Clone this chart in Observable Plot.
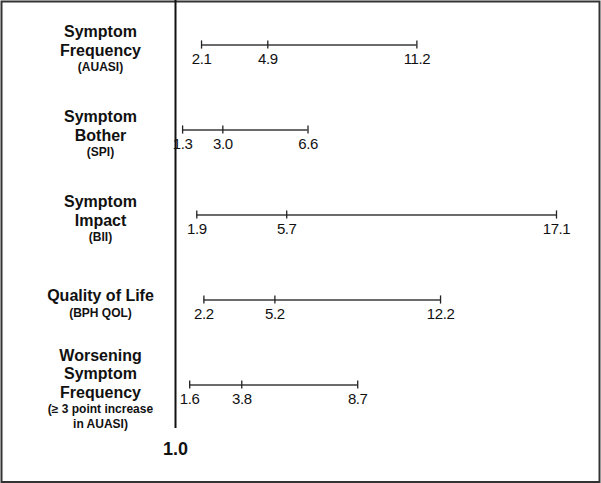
<!DOCTYPE html>
<html>
<head>
<meta charset="utf-8">
<script src="https://cdn.jsdelivr.net/npm/d3@7"></script>
<script src="https://cdn.jsdelivr.net/npm/@observablehq/plot@0.6"></script>
<style>
  html, body { margin: 0; padding: 0; background: #fff; }
  svg { display: block; }
  .vals text { letter-spacing: -0.4px; }
</style>
</head>
<body>
<div id="chart"></div>
<script>
const categories = ["Symptom Frequency", "Symptom Bother", "Symptom Impact", "Quality of Life", "Worsening Symptom Frequency"];
const mainLabels = ["Symptom\nFrequency", "Symptom\nBother", "Symptom\nImpact", "Quality of Life", "Worsening\nSymptom\nFrequency"];
const subLabels = ["(AUASI)", "(SPI)", "(BII)", "(BPH QOL)", "(\u2265 3 point increase\nin AUASI)"];
const lower = [2.1, 1.3, 1.9, 2.2, 1.6];
const estimate = [4.9, 3.0, 5.7, 5.2, 3.8];
const upper = [11.2, 6.6, 17.1, 12.2, 8.7];
const refValue = [1.0];

const rows = categories.map((c, i) => ({cat: c, low: lower[i], est: estimate[i], high: upper[i]}));
const points = rows.flatMap(r => [r.low, r.est, r.high].map(v => ({cat: r.cat, v})));

const W = 601, H = 483;
const mainLH = 18.5, subLH = 14.5, gap = 17, labelX = 100;
const fmt = d3.format(".1f");

const labelMarks = categories.flatMap((c, i) => {
  const n = mainLabels[i].split("\n").length;
  const m = subLabels[i].split("\n").length;
  const span = (n - 1) * mainLH + gap + (m - 1) * subLH;
  const top = 4 - span / 2;
  const mainC = top + (n - 1) * mainLH / 2;
  const subC = top + (n - 1) * mainLH + gap + (m - 1) * subLH / 2;
  return [
    Plot.text([c], {y: d => d, text: () => mainLabels[i], frameAnchor: "left", dx: labelX, dy: mainC,
      textAnchor: "middle", lineAnchor: "middle", fontSize: 16, fontWeight: "bold", lineHeight: mainLH / 16, fill: "#111"}),
    Plot.text([c], {y: d => d, text: () => subLabels[i], frameAnchor: "left", dx: labelX, dy: subC,
      textAnchor: "middle", lineAnchor: "middle", fontSize: 12, fontWeight: "bold", lineHeight: subLH / 12, fill: "#111"})
  ];
});

const chart = Plot.plot({
  width: W,
  height: H,
  margin: 0,
  style: {fontFamily: "'Liberation Sans', Arial, Helvetica, sans-serif", background: "#fff"},
  x: {domain: [1, 17.1], range: [175, 556], axis: null},
  y: {type: "band", domain: categories, range: [0, 429], padding: 0, axis: null},
  marks: [
    Plot.frame({stroke: "#333", strokeWidth: 2, insetLeft: 1, insetTop: 1, insetRight: 2, insetBottom: 1.5}),
    Plot.ruleX(refValue, {x: d => d, stroke: "#111", strokeWidth: 2, insetBottom: 55}),
    Plot.text(refValue, {x: d => d, text: d => fmt(d), frameAnchor: "bottom", lineAnchor: "middle", dy: -34, fontSize: 18, fontWeight: "bold", fill: "#111"}),
    Plot.ruleY(rows, {y: "cat", x1: "low", x2: "high", stroke: "#3a3a3a", strokeWidth: 1.5}),
    Plot.tickX(points, {x: "v", y: "cat", stroke: "#222", strokeWidth: 1.3, insetTop: 38.4, insetBottom: 38.4}),
    Plot.text(points, {x: "v", y: "cat", text: d => fmt(d.v), dy: 14.5, fontSize: 15, fill: "#111", className: "vals"}),
    ...labelMarks
  ]
});
document.getElementById("chart").appendChild(chart);
</script>
</body>
</html>
